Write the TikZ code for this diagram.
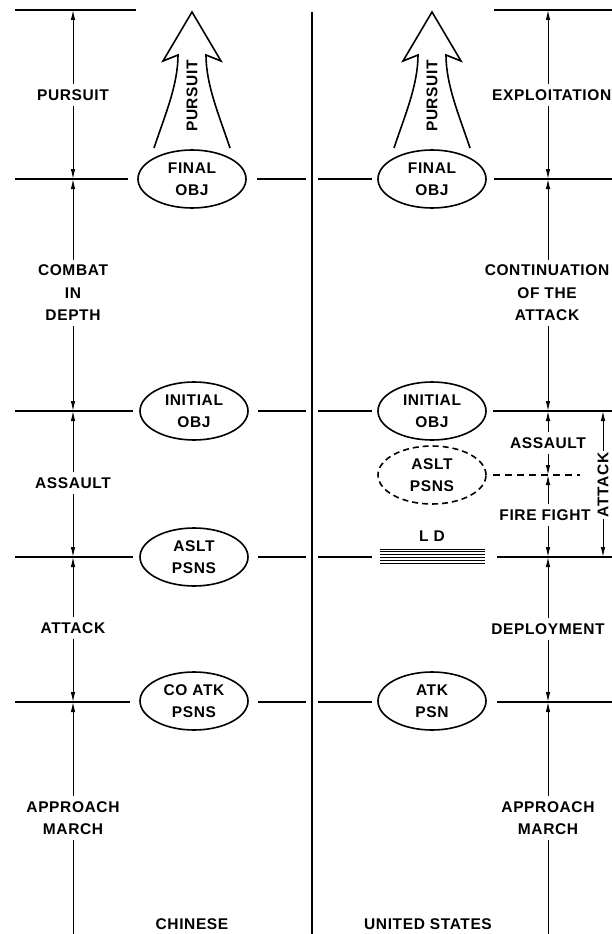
\documentclass[tikz,border=0pt]{standalone}
\usepackage{fontspec}
\setmainfont{Liberation Sans}[LetterSpace=4.0]
\usetikzlibrary{shapes.geometric,arrows.meta}
\begin{document}
\begin{tikzpicture}[x=1pt,y=-1pt,
  lettering/.style={font=\bfseries\fontsize{15.5}{22.5}\selectfont, align=center},
  phase/.style={lettering, inner xsep=2pt, inner ysep=5pt},
  objective/.style={lettering, ellipse, draw, line width=1.6pt,
     minimum width=108pt, minimum height=58pt, inner sep=0pt},
  planned/.style={objective, dash pattern=on 6pt off 4pt},
  rule/.style={line width=1.3pt},
  plannedrule/.style={rule, dash pattern=on 7pt off 5pt},
  divider/.style={line width=1.8pt},
  dimline/.style={line width=1pt},
  tipped/.style={dimline, -{Latex[length=10pt,width=4.5pt]}},
  advance/.style={line width=1.6pt, line join=miter},
  pursuitarrow/.pic={
    \draw[advance] (-38,148) .. controls (-27,115) and (-14,85) .. (-14,55)
      -- (-29,61) -- (0,12) -- (29,61) -- (14,55)
      .. controls (14,85) and (27,115) .. (38,148);
    \node[lettering, rotate=90] (word) at (0,96) {PURSUIT};
  },
]
\useasboundingbox (0,0) rectangle (612,934);
\fill[white] (0,0) rectangle (612,934);

% dimension stations
\coordinate (L0) at (73,10);
\coordinate (L1) at (73,179);
\coordinate (L2) at (73,411);
\coordinate (L3) at (73,557);
\coordinate (L4) at (73,702);
\coordinate (Lend) at (73,934);
\coordinate (R0) at (548,10);
\coordinate (R1) at (548,179);
\coordinate (R2) at (548,411);
\coordinate (R3) at (548,475);
\coordinate (R4) at (548,557);
\coordinate (R5) at (548,702);
\coordinate (Rend) at (548,934);
\coordinate (A0) at (603,411);
\coordinate (A1) at (603,557);

% centre divider
\draw[divider] (312,12) -- (312,934);

% objectives
\node[objective] (fL) at (192,179) {FINAL\\OBJ};
\node[objective] (iL) at (194,411) {INITIAL\\OBJ};
\node[objective] (aL) at (194,557) {ASLT\\PSNS};
\node[objective] (cL) at (194,701) {CO ATK\\PSNS};
\node[objective] (fR) at (432,179) {FINAL\\OBJ};
\node[objective] (iR) at (432,411) {INITIAL\\OBJ};
\node[planned] (pR) at (432,475) {ASLT\\PSNS};
\node[objective] (kR) at (432,701) {ATK\\PSN};

% line of departure
\node[lettering] (ld) at (432,536) {L D};
\foreach \k in {0,...,5}
  \draw[line width=0.7pt] (380,549+2.8*\k) -- (485,549+2.8*\k);

% pursuit arrows
\pic (pl) at (192,0) {pursuitarrow};
\pic (pr) at (432,0) {pursuitarrow};

% phase lines
\draw[rule] (15,10) -- (136,10);
\draw[rule] (494,10) -- (612,10);
\draw[rule] (15,179) -- (128,179);
\draw[rule] (257,179) -- (306,179);
\draw[rule] (318,179) -- (372,179);
\draw[rule] (494,179) -- (612,179);
\draw[rule] (15,411) -- (133,411);
\draw[rule] (258,411) -- (306,411);
\draw[rule] (318,411) -- (372,411);
\draw[rule] (493,411) -- (612,411);
\draw[plannedrule] (493,475) -- (580,475);
\draw[rule] (15,557) -- (133,557);
\draw[rule] (258,557) -- (306,557);
\draw[rule] (318,557) -- (372,557);
\draw[rule] (497,557) -- (612,557);
\draw[rule] (15,702) -- (130,702);
\draw[rule] (258,702) -- (306,702);
\draw[rule] (318,702) -- (372,702);
\draw[rule] (497,702) -- (612,702);

% phase names
\node[phase] (lPur) at (73,95) {PURSUIT};
\node[phase] (lCom) at (73,293) {COMBAT\\IN\\DEPTH};
\node[phase] (lAss) at (73,483) {ASSAULT};
\node[phase] (lAtt) at (73,628) {ATTACK};
\node[phase] (lApp) at (73,818) {APPROACH\\MARCH};
\node[lettering] (cn) at (192,924) {CHINESE};

\node[phase, anchor=west] (rExp) at (490,95) {EXPLOITATION};
\node[phase] (rCon) at (547,293) {CONTINUATION\\OF THE\\ATTACK};
\node[phase] (rAss) at (548,443) {ASSAULT};
\node[phase] (rFir) at (545,515) {FIRE FIGHT};
\node[phase] (rDep) at (548,629) {DEPLOYMENT};
\node[phase] (rApp) at (548,818) {APPROACH\\MARCH};
\node[lettering] (us) at (428,924) {UNITED STATES};
\node[phase, rotate=90] (rAtt) at (603,485) {ATTACK};

% left dimension line
\draw[tipped] (lPur.north) -- (L0);
\draw[tipped] (lPur.south) -- (L1);
\draw[tipped] (lCom.north) -- (L1);
\draw[tipped] (lCom.south) -- (L2);
\draw[tipped] (lAss.north) -- (L2);
\draw[tipped] (lAss.south) -- (L3);
\draw[tipped] (lAtt.north) -- (L3);
\draw[tipped] (lAtt.south) -- (L4);
\draw[tipped] (lApp.north) -- (L4);
\draw[dimline] (lApp.south) -- (Lend);

% right dimension line
\draw[tipped] (rExp.north -| R0) -- (R0);
\draw[tipped] (rExp.south -| R0) -- (R1);
\draw[tipped] (rCon.north -| R1) -- (R1);
\draw[tipped] (rCon.south -| R1) -- (R2);
\draw[tipped] (rAss.north -| R2) -- (R2);
\draw[tipped] (rAss.south -| R2) -- (R3);
\draw[tipped] (rFir.north -| R3) -- (R3);
\draw[tipped] (rFir.south -| R3) -- (R4);
\draw[tipped] (rDep.north -| R4) -- (R4);
\draw[tipped] (rDep.south -| R4) -- (R5);
\draw[tipped] (rApp.north -| R5) -- (R5);
\draw[dimline] (rApp.south -| R5) -- (Rend);

% attack bracket
\draw[tipped] (rAtt.east) -- (A0);
\draw[tipped] (rAtt.west) -- (A1);
\end{tikzpicture}
\end{document}
